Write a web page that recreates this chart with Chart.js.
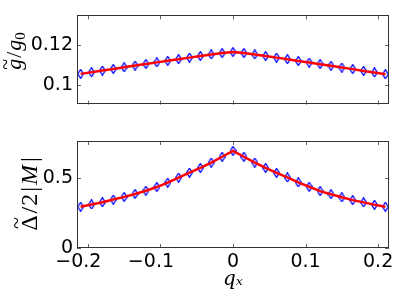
<!DOCTYPE html>
<html><head><meta charset="utf-8">
<script src="https://cdn.jsdelivr.net/npm/chart.js@4"></script>
<style>
html,body{margin:0;padding:0;background:#fff;width:399px;height:292px;overflow:hidden}
#top{position:absolute;left:0;top:0;width:399px;height:120px}
#bot{position:absolute;left:0;top:120px;width:399px;height:172px}
</style></head><body>
<div id="top"><canvas id="c1"></canvas></div>
<div id="bot"><canvas id="c2"></canvas></div>
<script>
const qx = [-0.21,-0.195,-0.18,-0.165,-0.15,-0.135,-0.12,-0.105,-0.09,-0.075,-0.06,-0.045,-0.03,-0.015,0,
            0.015,0.03,0.045,0.06,0.075,0.09,0.105,0.12,0.135,0.15,0.165,0.18,0.195,0.21];
const gRatio = [0.1055,0.1063,0.1072,0.1080,0.1088,0.1097,0.1105,0.1113,0.1121,0.1129,0.1137,0.1145,0.1153,0.1160,0.1165,
                0.1160,0.1153,0.1145,0.1137,0.1129,0.1120,0.1112,0.1104,0.1096,0.1087,0.1079,0.1070,0.1062,0.1053];
const gapRatio = [0.293,0.309,0.325,0.344,0.363,0.384,0.407,0.433,0.464,0.500,0.535,0.569,0.607,0.648,0.690,
                  0.648,0.607,0.569,0.534,0.501,0.466,0.435,0.404,0.382,0.360,0.340,0.324,0.307,0.293];
const xTicks = [-0.2,-0.1,0,0.1,0.2];
const gTicks = [0.1,0.12];
const gapTicks = [0,0.5];

const fmt = v => v < 0 ? '\u2212' + Math.abs(v) + '\u2002\u2002' : String(v);

function diamond(){
  const c = document.createElement('canvas');
  c.width = 7; c.height = 10;
  const g = c.getContext('2d');
  g.strokeStyle = '#0000ff'; g.lineWidth = 1.3;
  g.beginPath(); g.moveTo(3.5,0.6); g.lineTo(6.4,5); g.lineTo(3.5,9.4); g.lineTo(0.6,5); g.closePath(); g.stroke();
  return c;
}
const dia = diamond();

const boxTicks = {
  id:'boxTicks',
  afterDraw(chart){
    const {ctx, chartArea:a, scales:{x,y}} = chart;
    ctx.save();
    ctx.lineWidth = 1;
    ctx.strokeStyle = '#666';
    const L = 4;
    const ln = (x1,y1,x2,y2)=>{ctx.beginPath();ctx.moveTo(x1,y1);ctx.lineTo(x2,y2);ctx.stroke();};
    x.ticks.forEach(t=>{const p=Math.round(x.getPixelForValue(t.value))+0.5; ln(p,a.bottom,p,a.bottom-L); ln(p,a.top,p,a.top+L);});
    y.ticks.forEach(t=>{const p=Math.round(y.getPixelForValue(t.value))+0.5; ln(a.left,p,a.left+L,p); ln(a.right,p,a.right-L,p);});
    ctx.strokeStyle = '#333';
    ctx.strokeRect(Math.round(a.left)+0.5, Math.round(a.top)+0.5, Math.round(a.right-a.left)-1, Math.round(a.bottom-a.top)-1);
    ctx.restore();
  }
};

// rotated y-axis title drawn as mixed-style text segments
const SERIF = '"Liberation Serif"';
function yTitlePlugin(segments, baseX, centerY){
  return {
    id:'yTitle',
    afterDraw(chart){
      const ctx = chart.ctx;
      ctx.save();
      ctx.translate(baseX, centerY);
      ctx.rotate(-Math.PI/2);
      ctx.fillStyle = '#000';
      ctx.textBaseline = 'alphabetic';
      ctx.textAlign = 'left';
      let total = 0;
      segments.forEach(s=>{ctx.font = s.font; s.w = ctx.measureText(s.text).width + (s.gap||0); total += s.w;});
      let x = -total/2;
      segments.forEach(s=>{
        ctx.font = s.font;
        ctx.fillText(s.text, x, s.dy||0);
        if (s.tilde){
          ctx.font = s.tilde.font;
          const tw = ctx.measureText('~').width;
          ctx.fillText('~', x + (s.w-(s.gap||0))/2 - tw/2 + (s.tilde.dx||0), s.tilde.dy);
        }
        x += s.w;
      });
      ctx.restore();
    }
  };
}

function makeChart(id, values, yMin, yMax, yTicks, titlePlugin, bottom){
  return new Chart(document.getElementById(id), {
    type:'line',
    data:{
      datasets:[
        {data: qx.map((q,i)=>({x:q,y:values[i]})), borderColor:'#ff0000', borderWidth:2.5, pointRadius:0, tension:0, order:0, fill:false},
        {data: qx.map((q,i)=>({x:q,y:values[i]})), showLine:false, pointStyle:dia, pointRadius:5, order:1}
      ]
    },
    options:{
      responsive:true, maintainAspectRatio:false, animation:false,
      layout:{padding:{left:0,right:10,top: bottom?21:3,bottom:0}},
      plugins:{legend:{display:false}, tooltip:{enabled:false}},
      scales:{
        x:{type:'linear', min:-0.215, max:0.215,
           afterBuildTicks:s=>{s.ticks = xTicks.map(v=>({value:v}));},
           afterFit:s=>{s.height = bottom?44:11;},
           grid:{display:true, drawOnChartArea:false, drawTicks:false, color:'rgba(0,0,0,0)'},
           border:{display:false},
           ticks:{display:bottom, maxRotation:0, autoSkip:false, padding:3, color:'#000',
                  font:{family:'DejaVu Sans', size:19}, callback:fmt},
           title:{display:bottom, text:'q\u2093', color:'#000', padding:{top:-3,bottom:0},
                  font:{family:'DejaVu Serif', style:'italic', size:20}}
        },
        y:{min:yMin, max:yMax,
           afterBuildTicks:s=>{s.ticks = yTicks.map(v=>({value:v}));},
           afterFit:s=>{s.width = 77;},
           grid:{display:true, drawOnChartArea:false, drawTicks:false, color:'rgba(0,0,0,0)'},
           border:{display:false},
           ticks:{padding:4, color:'#000', font:{family:'DejaVu Sans', size:19}, callback:fmt},
           title:{display:false}
        }
      }
    },
    plugins:[boxTicks, titlePlugin]
  });
}

const topTitle = yTitlePlugin([
  {text:'g', font:'italic 22px '+SERIF, gap:1, tilde:{font:'20px '+SERIF, dy:-9}},
  {text:'/', font:'22px '+SERIF, gap:1},
  {text:'g', font:'italic 22px '+SERIF},
  {text:'0', font:'15px '+SERIF, dy:4}
], 21, 51);
const botTitle = yTitlePlugin([
  {text:'\u0394', font:'24px '+SERIF, gap:2, tilde:{font:'22px '+SERIF, dy:-14}},
  {text:'/', font:'24px '+SERIF, gap:1},
  {text:'2', font:'24px '+SERIF, gap:2},
  {text:'|', font:'24px '+SERIF, gap:2},
  {text:'M', font:'italic 24px '+SERIF, gap:3},
  {text:'|', font:'24px '+SERIF}
], 37, 74);

makeChart('c1', gRatio, 0.09, 0.135, gTicks, topTitle, false);
makeChart('c2', gapRatio, 0, 0.76, gapTicks, botTitle, true);
</script>
</body></html>
